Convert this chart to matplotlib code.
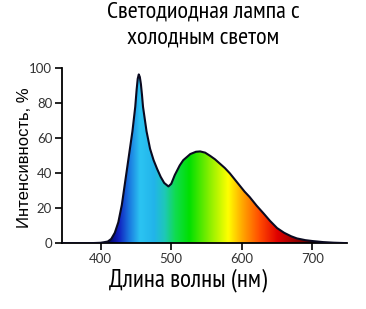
import numpy as np
import matplotlib
matplotlib.use("Agg")
import matplotlib.pyplot as plt
from matplotlib.colors import LinearSegmentedColormap

# Спектр светодиодной лампы
wavelength = [345, 380, 400, 410, 415, 420, 425, 430, 435, 440, 445, 449, 451, 452.5,
              454, 455.5, 457, 458.5, 460, 465, 470, 475, 480, 485, 490, 496, 500, 505, 512, 517,
              527, 535, 541, 548, 555, 562, 569, 576, 583, 590, 597, 604, 611, 621,
              631, 640, 650, 660, 670, 678, 690, 700, 715, 730, 749]
intensity = [0, 0, 0.3, 1, 2.5, 6, 12, 22, 36, 50, 64, 78, 88, 94,
             96.5, 95, 91, 85, 78, 64, 54, 47.5, 42.5, 38, 34.5, 32.5, 34, 39, 44.5, 47.5,
             51, 52.3, 52.5, 51.8, 50, 48, 45.5, 43, 40, 36.5, 33, 29.5, 26.5, 21.5,
             17, 12.8, 8.7, 6, 4, 2.8, 1.8, 1.3, 0.7, 0.35, 0.1]

x_ticks = [400, 500, 600, 700]
y_ticks = [0, 20, 40, 60, 80, 100]

# цвета градиента по длинам волн
grad_wl = [345, 410, 425, 440, 455, 475, 490, 505, 525, 555, 580, 600, 625, 650, 680, 715, 749]
grad_col = ['#000040', '#000060', '#1020c0', '#1a7ae0', '#2cc4f2', '#22b4ea', '#1ec8b8',
            '#10dc50', '#00e000', '#90f000', '#ffff00', '#ffa800', '#ff4a00', '#e00000',
            '#8a0000', '#300000', '#000000']

font = ['PT Sans Narrow', 'Open Sans', 'DejaVu Sans']

lo, hi = grad_wl[0], grad_wl[-1]
cmap = LinearSegmentedColormap.from_list(
    'spec', [((w - lo) / (hi - lo), c) for w, c in zip(grad_wl, grad_col)])

fig = plt.figure(figsize=(3.66, 3.09), dpi=100)
ax = fig.add_axes([0.169, 0.2126, 0.779, 0.5664])

poly = ax.fill_between(wavelength, intensity, 0, color='none', lw=0)
grad = np.linspace(0, 1, 512).reshape(1, -1)
im = ax.imshow(grad, cmap=cmap, aspect='auto', extent=[lo, hi, 0, 100],
               interpolation='bilinear', zorder=1)
im.set_clip_path(poly.get_paths()[0], transform=ax.transData)
ax.plot(wavelength, intensity, color='#0a0a20', lw=1.5, zorder=3,
        solid_joinstyle='round')

ax.set_xlim(lo, hi)
ax.set_ylim(0, 100)
ax.set_xticks(x_ticks)
ax.set_yticks(y_ticks)
for s in ['top', 'right']:
    ax.spines[s].set_visible(False)
for s in ['left', 'bottom']:
    ax.spines[s].set_linewidth(1.3)
ax.tick_params(direction='out', length=5, width=1.2, labelsize=9.5,
               labelcolor='#333333', pad=2)

for lab in ax.get_xticklabels() + ax.get_yticklabels():
    lab.set_family('Lato')

fig.text(0.066, 0.49, 'Интенсивность, %', rotation=90, ha='center', va='center',
         fontsize=12, family=['Liberation Sans', 'DejaVu Sans'])
fig.text(0.513, 0.092, 'Длина волны (нм)', ha='center', va='center',
         fontsize=18, family=font)
fig.text(0.555, 0.995, 'Светодиодная лампа с\nхолодным светом', ha='center', va='top',
         fontsize=17.5, family=font, linespacing=1.3)

fig.savefig('out.png', dpi=100)
